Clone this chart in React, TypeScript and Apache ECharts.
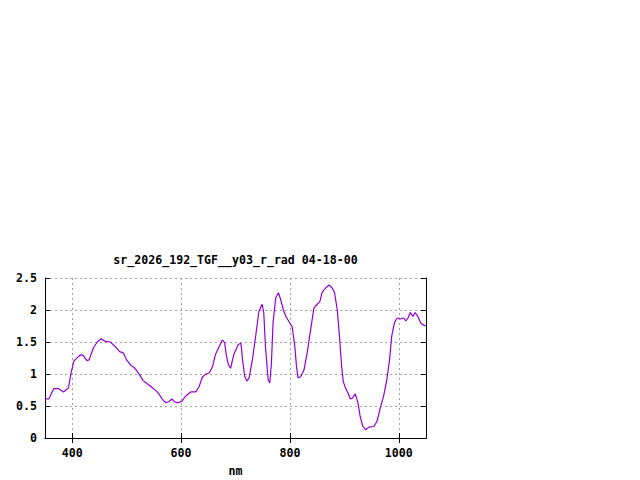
import React, { useEffect, useRef } from "react";
import * as echarts from "echarts";

const titleText = "sr_2026_192_TGF__y03_r_rad 04-18-00";
const xName = "nm";
const xTicks = [400, 600, 800, 1000];
const yTicks = [0, 0.5, 1, 1.5, 2, 2.5];

const wavelengths = [
  350, 357, 366, 375, 384, 393, 398, 403, 410, 415, 420, 427, 431, 439, 446, 453,
  461, 470, 479, 487, 494, 500, 508, 514, 522, 530, 539, 548, 554, 560, 566, 572,
  578, 583, 589, 595, 602, 609, 618, 627, 633, 639, 644, 652, 658, 663, 670, 676,
  680, 683, 687, 691, 697, 705, 710, 713, 717, 721, 725, 731, 737, 743, 749, 752,
  755, 760, 763, 766, 769, 774, 779, 783, 788, 792, 798, 804, 809, 812, 815, 820,
  826, 832, 838, 844, 850, 855, 859, 865, 872, 878, 882, 887, 891, 895, 898, 902,
  907, 911, 915, 920, 925, 929, 934, 939, 945, 954, 960, 966, 972, 978, 983, 987,
  992, 997, 1003, 1009, 1013, 1017, 1021, 1026, 1030, 1035, 1041, 1047, 1050,
];

const radiance = [
  0.61, 0.61, 0.77, 0.77, 0.72, 0.78, 1.02, 1.2, 1.26, 1.3, 1.29, 1.21, 1.22, 1.41, 1.5, 1.55,
  1.51, 1.5, 1.43, 1.35, 1.33, 1.22, 1.13, 1.1, 1.01, 0.9, 0.84, 0.78, 0.74, 0.68, 0.6, 0.55,
  0.57, 0.61, 0.56, 0.55, 0.58, 0.66, 0.72, 0.72, 0.8, 0.95, 0.99, 1.02, 1.12, 1.3, 1.43, 1.53,
  1.49, 1.3, 1.145, 1.09, 1.31, 1.46, 1.48, 1.22, 0.96, 0.89, 0.94, 1.22, 1.59, 1.98, 2.09, 1.95,
  1.43, 0.91, 0.86, 1.17, 1.8, 2.19, 2.27, 2.16, 2.0, 1.91, 1.82, 1.74, 1.43, 1.12, 0.94, 0.96,
  1.07, 1.35, 1.69, 2.03, 2.09, 2.13, 2.27, 2.34, 2.39, 2.34, 2.27, 2.0, 1.59, 1.12, 0.885, 0.78,
  0.7, 0.61, 0.625, 0.69, 0.55, 0.34, 0.18, 0.13, 0.17, 0.18, 0.26, 0.47, 0.65, 0.91, 1.22, 1.59,
  1.8, 1.875, 1.86, 1.875, 1.83, 1.875, 1.96, 1.9, 1.96, 1.9, 1.79, 1.76, 1.75,
];

const FONT = "'DejaVu Sans Mono', 'Liberation Mono', monospace";
const FS = 11.6;

export default function App() {
  const ref = useRef<HTMLDivElement>(null);
  useEffect(() => {
    if (!ref.current) return;
    const chart = echarts.init(ref.current, undefined, { renderer: "svg" });
    const data = wavelengths.map((w, i) => [w, radiance[i]]);
    const gridLine = { show: true, lineStyle: { color: "#a0a0a0", type: [2, 3] as any, width: 1 } };
    const baseX = {
      type: "value" as const,
      min: 350,
      max: 1050,
      axisLine: { show: true, lineStyle: { color: "#000", width: 1 } },
    };
    const baseY = {
      type: "value" as const,
      min: yTicks[0],
      max: yTicks[yTicks.length - 1],
      interval: 0.5,
      axisLine: { show: true, lineStyle: { color: "#000", width: 1 } },
    };
    chart.setOption({
      animation: false,
      backgroundColor: "#fff",
      grid: { left: 45, top: 278, right: 214, bottom: 42, containLabel: false },
      graphic: [
        {
          type: "text",
          x: 235.5,
          y: 260,
          style: {
            text: titleText,
            fill: "#000",
            font: `bold ${FS}px ${FONT}`,
            align: "center",
            verticalAlign: "middle",
          },
        },
      ],
      xAxis: [
        {
          ...baseX,
          position: "bottom",
          name: xName,
          nameLocation: "middle",
          nameGap: 27,
          nameTextStyle: { color: "#000", fontFamily: FONT, fontWeight: "bold", fontSize: FS },
          axisTick: { show: true, inside: true, length: 5, lineStyle: { color: "#000" }, customValues: xTicks },
          axisLabel: {
            show: true,
            margin: 9,
            color: "#000",
            fontFamily: FONT,
            fontWeight: "bold",
            fontSize: FS,
            customValues: xTicks,
            formatter: (v: number) => String(v),
          },
          splitLine: gridLine,
        },
        {
          ...baseX,
          position: "top",
          axisTick: { show: true, inside: true, length: 5, lineStyle: { color: "#000" }, customValues: xTicks },
          axisLabel: { show: false, customValues: xTicks },
          splitLine: { show: false },
        },
      ],
      yAxis: [
        {
          ...baseY,
          position: "left",
          axisTick: { show: true, inside: true, length: 5, lineStyle: { color: "#000" } },
          axisLabel: {
            show: true,
            margin: 8,
            color: "#000",
            fontFamily: FONT,
            fontWeight: "bold",
            fontSize: FS,
            formatter: (v: number) => String(v),
          },
          splitLine: gridLine,
        },
        {
          ...baseY,
          position: "right",
          axisTick: { show: true, inside: true, length: 5, lineStyle: { color: "#000" } },
          axisLabel: { show: false },
          splitLine: { show: false },
        },
      ],
      series: [
        {
          type: "line",
          data,
          xAxisIndex: 0,
          yAxisIndex: 0,
          showSymbol: false,
          symbol: "none",
          lineStyle: { color: "#9400d3", width: 1.2 },
          z: 3,
        },
      ],
    });
    return () => chart.dispose();
  }, []);
  return (
    <div
      ref={ref}
      style={{ position: "absolute", left: 0, top: 0, width: 640, height: 480, background: "#fff" }}
    />
  );
}
